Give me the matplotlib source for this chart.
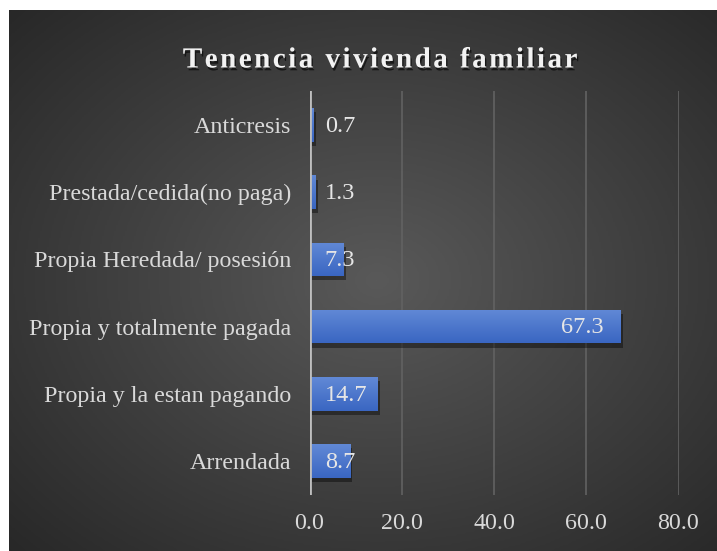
import numpy as np
import matplotlib
matplotlib.use("Agg")
import matplotlib.pyplot as plt
import matplotlib.patheffects as pe
from matplotlib.colors import LinearSegmentedColormap

categorias = ["Anticresis", "Prestada/cedida(no paga)", "Propia Heredada/ posesión",
              "Propia y totalmente pagada", "Propia y la estan pagando", "Arrendada"]
valores = [0.7, 1.3, 7.3, 67.3, 14.7, 8.7]
xticks = [0, 20, 40, 60, 80]
titulo = "Tenencia vivienda familiar"

plt.rcParams['font.family'] = ['Liberation Serif', 'DejaVu Serif']

W, H = 717, 551
fig = plt.figure(figsize=(W / 100, H / 100), dpi=100)
fig.patch.set_facecolor("white")

# fondo oscuro con degradado radial
bg = fig.add_axes([9 / W, 0, 1 - 9 / W, 1 - 10 / H])
bg.set_axis_off()
yy, xx = np.mgrid[0:1:300j, 0:1:400j]
r = np.sqrt(((xx - 0.52) / 0.75) ** 2 + ((yy - 0.5) / 0.75) ** 2)
bgcmap = LinearSegmentedColormap.from_list("bg", ["#595959", "#262626"])
bg.imshow(np.clip(r, 0, 1), cmap=bgcmap, vmin=0, vmax=1, aspect="auto",
          extent=[0, 1, 0, 1], interpolation="bilinear")

# area de grafico
x0, x1 = 309.5, 678.5
ytop, ybot = 91.5, 494.5
ax = fig.add_axes([x0 / W, 1 - ybot / H, (x1 - x0) / W, (ybot - ytop) / H])
ax.patch.set_alpha(0)
ax.set_xlim(0, 80)
ax.set_ylim(len(categorias) - 0.5, -0.5)

ax.grid(axis="x", color="#626262", linewidth=1.2)
ax.set_axisbelow(True)
for s in ax.spines.values():
    s.set_visible(False)
ax.axvline(0, color="#bfbfbf", linewidth=2, zorder=4)

ypos = np.arange(len(categorias))
barcmap = LinearSegmentedColormap.from_list("bar", ["#6189d6", "#3a66c2"])
grad = np.linspace(0, 1, 50).reshape(-1, 1)
for y, v in zip(ypos, valores):
    b = ax.barh(y, v, height=0.5, color="#4472c4", zorder=2,
                path_effects=[pe.SimplePatchShadow(offset=(2, -3), shadow_rgbFace="black", alpha=0.4),
                              pe.Normal()])
    im = ax.imshow(grad, cmap=barcmap, aspect="auto", zorder=3,
                   extent=[0, v, y + 0.25, y - 0.25], interpolation="bilinear")
    im.set_clip_path(b.patches[0])
    # etiqueta: dentro al final si la barra es larga, si no junto al eje
    if v > 20:
        ax.text(v - 3.5, y + 0.02, f"{v:.1f}", ha="right", va="center", color="#e6e6e6",
                fontsize=17.5, zorder=5)
    else:
        ax.text(3.3, y + 0.02, f"{v:.1f}", ha="left", va="center", color="#e6e6e6",
                fontsize=17.5, zorder=5)

ax.set_xticks(xticks)
ax.set_xticklabels([f"{t:.1f}" for t in xticks])
ax.set_yticks(ypos)
ax.set_yticklabels(categorias)
ax.tick_params(axis="both", length=0, colors="#d9d9d9", labelsize=17.3)
ax.tick_params(axis="y", pad=13)
ax.tick_params(axis="x", pad=13)
ax.set_xlim(0, 80)
ax.set_ylim(len(categorias) - 0.5, -0.5)

fig.text(379 / W, 1 - 60 / H, "\u200a".join(titulo), ha="center", va="center",
         fontsize=21, fontweight="bold", color="#f2f2f2",
         path_effects=[pe.SimplePatchShadow(offset=(1, -2), shadow_rgbFace="black", alpha=0.6),
                       pe.Normal()])

fig.savefig("out.png", dpi=100, facecolor="white")
